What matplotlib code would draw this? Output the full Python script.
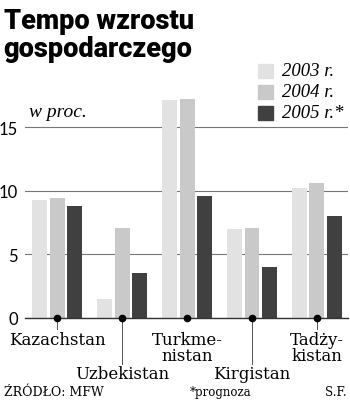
import matplotlib
matplotlib.use("Agg")
import matplotlib.pyplot as plt
import numpy as np

countries = ["Kazachstan", "Uzbekistan", "Turkme-\nnistan", "Kirgistan", "Tadży-\nkistan"]
years = ["2003 r.", "2004 r.", "2005 r.*"]
v2003 = [9.3, 1.5, 17.1, 7.0, 10.2]
v2004 = [9.4, 7.1, 17.2, 7.1, 10.6]
v2005 = [8.8, 3.5, 9.6, 4.0, 8.0]

colors = ["#e2e2e2", "#c9c9c9", "#404040"]

fig = plt.figure(figsize=(3.5, 4.06), dpi=100)
ax = fig.add_axes([25 / 350, (406 - 319) / 406, 323 / 350, (319 - 95) / 406])

x = np.arange(len(countries))
w = 0.23
step = 0.27
for i, (vals, c) in enumerate(zip([v2003, v2004, v2005], colors)):
    ax.bar(x + (i - 1) * step, vals, width=w, color=c, zorder=2)

ax.set_xlim(-0.5, 4.48)
ax.set_ylim(0, 17.6)
ax.set_yticks([0, 5, 10, 15])
ax.yaxis.grid(True, color="#777777", lw=0.8, zorder=0)
for s in ["top", "right", "left"]:
    ax.spines[s].set_visible(False)
ax.spines["bottom"].set_color("#333333")
ax.spines["bottom"].set_linewidth(1.0)
ax.tick_params(axis="y", length=0, pad=5, labelsize=12)
ax.tick_params(axis="x", length=0, labelbottom=False)
for t in ax.get_yticklabels():
    t.set_fontfamily("Lato")

# dots, leader lines and country labels
ends = [-0.9, -3.6, 0, -3.6, -0.9]
label_y = [-1.0, -3.7, -1.0, -3.7, -1.0]
for xi, name, e, ly in zip(x, countries, ends, label_y):
    if e:
        ax.plot([xi, xi], [0, e], color="#555555", lw=0.7, clip_on=False)
    ax.plot(xi, 0, "o", color="black", ms=4.5, clip_on=False, zorder=5)
    ax.text(xi, ly, name, ha="center", va="top", fontsize=12,
            family="DejaVu Serif", linespacing=0.95)

# title
fig.text(0.01, 0.98, "Tempo wzrostu\ngospodarczego", ha="left", va="top",
         fontsize=19.5, fontweight="heavy", family="Roboto", linespacing=1.02)

# legend
for i, (lab, c) in enumerate(zip(years, colors)):
    yy = 1 - (72 + i * 20.8) / 406
    fig.patches.append(plt.Rectangle((258 / 350, yy - 7 / 406), 15 / 350, 14 / 406,
                                     transform=fig.transFigure, color=c))
    fig.text(282 / 350, yy, lab, ha="left", va="center", fontsize=13.5,
             style="italic", family="Liberation Serif")

fig.text(29 / 350, 1 - 113 / 406, "w proc.", ha="left", va="center", fontsize=14,
         style="italic", family="Liberation Serif")

# footer
fig.text(0.01, 0.018, "ŹRÓDŁO: MFW", ha="left", va="bottom", fontsize=9, family="DejaVu Serif")
fig.text(190 / 350, 0.018, "*prognoza", ha="left", va="bottom", fontsize=8.5, family="DejaVu Serif")
fig.text(0.99, 0.018, "S.F.", ha="right", va="bottom", fontsize=8.5, family="DejaVu Serif")

fig.savefig("out.png", dpi=100)
